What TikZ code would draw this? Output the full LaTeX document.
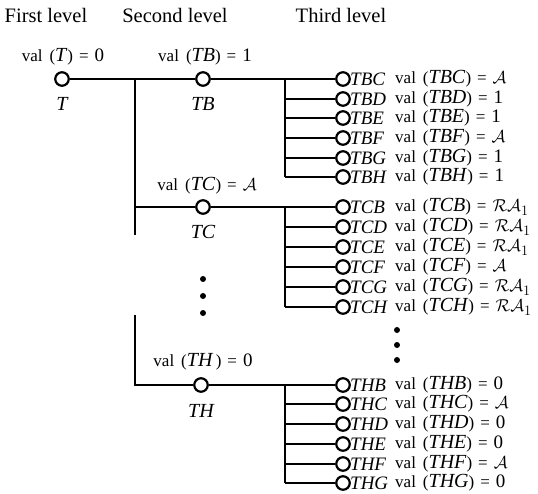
\documentclass[tikz,border=0pt]{standalone}
\usepackage{fontspec}
\setmainfont{Liberation Serif}
\newcommand\vv[2]{val\hspace{7pt}(\textit{\fontsize{20}{20}\selectfont #1})\hspace{6pt}=\hspace{6pt}{\fontsize{19}{20}\selectfont #2}}
\begin{document}
\begin{tikzpicture}[x=1pt,y=-1pt,
  ln/.style={line width=2pt},
  cnode/.style={circle,draw,line width=2.2pt,fill=white,minimum size=13.5pt,inner sep=0pt},
  hdr/.style={font=\fontsize{20.5}{24}\selectfont},
  nm/.style={font=\fontsize{20}{20}\selectfont\itshape},
  tn/.style={font=\fontsize{19}{20}\selectfont\itshape, anchor=west, inner sep=0pt},
  vl/.style={font=\fontsize{17}{18}\selectfont, inner sep=0pt},
  dotc/.style={circle,fill=black,minimum size=6pt,inner sep=0pt}
]
\useasboundingbox (0,0) rectangle (538,494);
\node[hdr] (h1) at (46,15) {First level};
\node[hdr] (h2) at (175,15) {Second level};
\node[hdr] (h3) at (341,15) {Third level};

% first level
\node[cnode] (T) at (62,79) {};
\node[nm] (Tl) at (62,104) {T};
\node[vl] (Tv) at (63,57) {\vv{T}{0}};

% second level
\node[cnode] (TB) at (203,79) {};
\node[nm] (TBl) at (203,104) {TB};
\node[vl] (TBv) at (205,57) {\vv{TB}{1}};
\node[cnode] (TC) at (203,207) {};
\node[nm] (TCl) at (203,232) {TC};
\node[vl] (TCv) at (207,186) {\vv{TC}{$\mathcal{A}$}};
\node[cnode] (TH) at (201,385) {};
\node[nm] (THl) at (201,411) {TH};
\node[vl] (THv) at (203,362) {\vv{TH\,}{0}};
\node[dotc] (d1) at (203,279) {};
\node[dotc] (d2) at (203,296) {};
\node[dotc] (d3) at (203,313) {};

\coordinate (j1) at (135,79);
\coordinate (j1b) at (135,235);
\coordinate (j2) at (135,315);

% third level
\foreach \n/\y/\v in {TBC/79/{$\mathcal{A}$}, TBD/99/1, TBE/118/1, TBF/138/{$\mathcal{A}$}, TBG/158/1, TBH/177/1,
  TCB/207/{$\mathcal{RA}_1$}, TCD/227/{$\mathcal{RA}_1$}, TCE/247/{$\mathcal{RA}_1$}, TCF/267/{$\mathcal{A}$}, TCG/287/{$\mathcal{RA}_1$}, TCH/307/{$\mathcal{RA}_1$},
  THB/385/0, THC/404/{$\mathcal{A}$}, THD/424/0, THE/444/0, THF/464/{$\mathcal{A}$}, THG/483/0}{
  \node[cnode] (\n) at (343,\y) {};
  \node[tn] (\n l) at (350,\y) {\n};
  \node[vl, anchor=west] (\n v) at (395,\y) {\vv{\n}{\v}};
}
\node[dotc] (e1) at (397,330) {};
\node[dotc] (e2) at (397,345) {};
\node[dotc] (e3) at (397,360) {};

\coordinate (bB) at (285,79);
\coordinate (bC) at (285,207);
\coordinate (bH) at (285,385);

\draw[ln] (T) -- (TB);
\draw[ln] (TB) -- (TBC);
\draw[ln] (j1) -- (j1b);
\draw[ln] (j1 |- TC) -- (TC);
\draw[ln] (TC) -- (TCB);
\draw[ln] (j2) |- (TH);
\draw[ln] (TH) -- (THB);
\draw[ln] (bB) -- (bB |- TBH);
\draw[ln] (bC) -- (bC |- TCH);
\draw[ln] (bH) -- (bH |- THG);
\foreach \n in {TBD,TBE,TBF,TBG,TBH}{\draw[ln] (bB |- \n) -- (\n);}
\foreach \n in {TCD,TCE,TCF,TCG,TCH}{\draw[ln] (bC |- \n) -- (\n);}
\foreach \n in {THC,THD,THE,THF,THG}{\draw[ln] (bH |- \n) -- (\n);}
\end{tikzpicture}
\end{document}
